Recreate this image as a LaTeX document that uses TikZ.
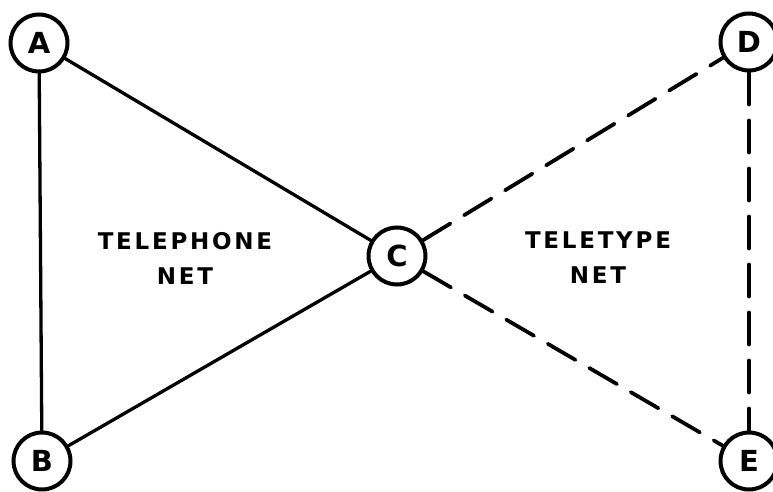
\documentclass[tikz,border=0pt]{standalone}
\usepackage{fontspec}
\newfontfamily\nodefont{DejaVu Sans Bold}
\newfontfamily\labfont[LetterSpace=12]{DejaVu Sans Bold}
\begin{document}
\begin{tikzpicture}[x=1pt,y=-1pt,
  station/.style={circle,draw,line width=4pt,minimum size=57pt,inner sep=0pt,
    font=\nodefont\fontsize{29}{29}\selectfont},
  solidlink/.style={line width=3.3pt,line cap=round},
  dashlink/.style={line width=3.8pt,line cap=round,dash pattern=on 32pt off 16pt},
  netlabel/.style={align=center,inner sep=0pt,font=\labfont\fontsize{23}{35}\selectfont}]
\useasboundingbox (0,0) rectangle (773,492);
\node[station] (A) at (39,43) {A};
\node[station] (B) at (42,461) {B};
\node[station] (C) at (397,256) {C};
\node[station] (D) at (749,42) {D};
\node[station] (E) at (749,461) {E};
\draw[solidlink] (A) -- (B);
\draw[solidlink] (A) -- (C);
\draw[solidlink] (B) -- (C);
\draw[dashlink] (C) -- (D);
\draw[dashlink] (C) -- (E);
\draw[dashlink] (D) -- (E);
\node[netlabel] (tel) at (185,258) {TELEPHONE\\NET};
\node[netlabel] (tty) at (598,258) {TELETYPE\\NET};
\end{tikzpicture}
\end{document}
